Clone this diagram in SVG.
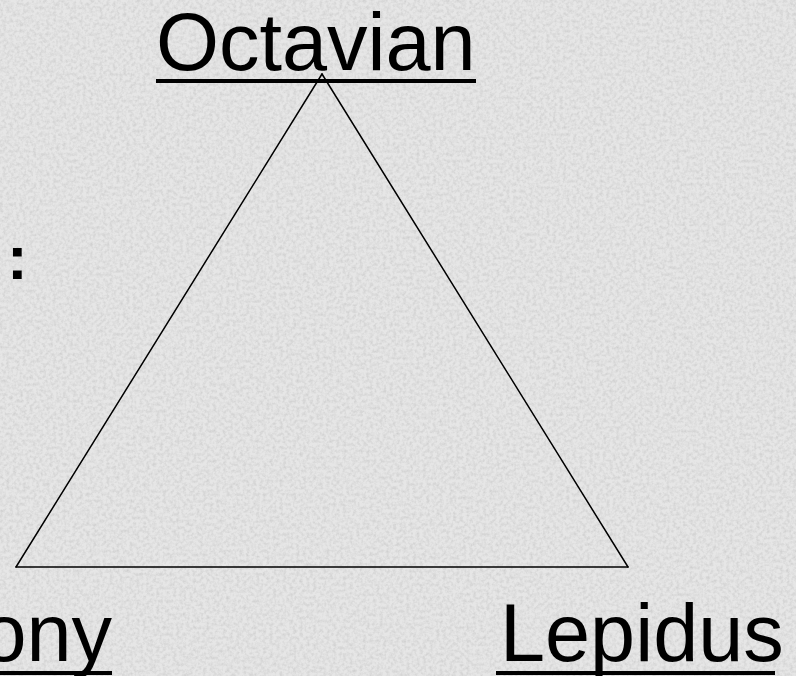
<svg xmlns="http://www.w3.org/2000/svg" width="796" height="676" viewBox="0 0 796 676">
  <style>
    .lbl { font-family: "Liberation Sans", Arial, sans-serif; font-size: 81px; fill: #000; }
    .ul { stroke: #000; stroke-width: 4; }
    .edge { stroke: #000; stroke-width: 1.5; fill: none; stroke-linecap: round; }
  </style>
  <defs>
    <filter id="paper" x="0" y="0" width="100%" height="100%">
      <feTurbulence type="fractalNoise" baseFrequency="0.3" numOctaves="3" seed="7" result="n"/>
      <feColorMatrix in="n" type="matrix" values="0 0 0 0 0.5  0 0 0 0 0.5  0 0 0 0 0.5  0 0 0 1.6 -0.6"/>
    </filter>
  </defs>
  <rect x="0" y="0" width="796" height="676" fill="#e6e6e6"/>
  <rect x="0" y="0" width="796" height="676" filter="url(#paper)" opacity="0.6"/>

  <g id="connectors">
    <line class="edge" x1="322" y1="74" x2="16" y2="567"/>
    <line class="edge" x1="322" y1="74" x2="628" y2="567"/>
    <line class="edge" x1="16" y1="567" x2="628" y2="567"/>
  </g>

  <g id="node-octavian">
    <text class="lbl" x="156" y="70">Octavian</text>
    <line class="ul" x1="156" y1="81" x2="476" y2="81"/>
  </g>

  <g id="node-antony">
    <text class="lbl" x="112" y="661" text-anchor="end">ony</text>
    <line class="ul" x1="0" y1="673" x2="112" y2="673"/>
  </g>

  <g id="node-lepidus">
    <text class="lbl" x="500" y="661">Lepidus</text>
    <line class="ul" x1="496" y1="673" x2="775" y2="673"/>
  </g>

  <g id="colon">
    <text x="7" y="279" font-family="Liberation Sans, Arial, sans-serif" font-size="62" font-weight="bold" fill="#000">:</text>
  </g>
</svg>
